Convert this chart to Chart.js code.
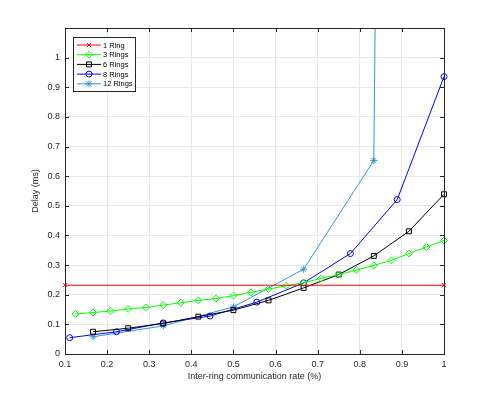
<!DOCTYPE html>
<html lang="en">
<head>
    <meta charset="UTF-8">
    <title>Delay vs inter-ring communication rate</title>
    <script src="https://cdn.jsdelivr.net/npm/chart.js"></script>
    <style>
        body { margin: 0; background: #fff; }
    </style>
</head>
<body>
    <canvas id="chart" width="498" height="399"></canvas>

    <script>
        // values
        const labels = ["1 Ring", "3 Rings", "6 Rings", "8 Rings", "12 Rings"];
        const xTicks = [0.1, 0.2, 0.3, 0.4, 0.5, 0.6, 0.7, 0.8, 0.9, 1];

        const ring1X = [0.1, 1];
        const ring1Y = [0.232, 0.232];

        const ring3X = [3/24, 4/24, 5/24, 6/24, 7/24, 8/24, 9/24, 10/24, 11/24, 12/24, 13/24,
                        14/24, 15/24, 16/24, 17/24, 18/24, 19/24, 20/24, 21/24, 22/24, 23/24, 1];
        const ring3Y = [0.135, 0.140, 0.145, 0.152, 0.157, 0.165, 0.173, 0.181, 0.187, 0.197, 0.208,
                        0.219, 0.230, 0.241, 0.255, 0.268, 0.283, 0.299, 0.316, 0.339, 0.361, 0.383];

        const ring6X = [2/12, 3/12, 4/12, 5/12, 6/12, 7/12, 8/12, 9/12, 10/12, 11/12, 1];
        const ring6Y = [0.075, 0.087, 0.103, 0.126, 0.148, 0.181, 0.223, 0.268, 0.331, 0.414, 0.539];

        const ring8X = [1/9, 2/9, 3/9, 4/9, 5/9, 6/9, 7/9, 8/9, 1];
        const ring8Y = [0.055, 0.075, 0.105, 0.128, 0.175, 0.240, 0.339, 0.521, 0.936];

        // last point is far above the axis, the line leaves the plot almost vertically
        const ring12X = [1/6, 2/6, 3/6, 4/6, 5/6, 1];
        const ring12Y = [0.058, 0.095, 0.159, 0.286, 0.653, 25];

        const textColor = "#262626";
        const fontFamily = "'Liberation Sans', Arial, Helvetica, sans-serif";

        function pts(xs, ys) {
            return xs.map((x, i) => ({ x: x, y: ys[i] }));
        }

        function series(label, xs, ys, color, style, radius, clip) {
            return {
                label: label,
                data: pts(xs, ys),
                showLine: true,
                borderColor: color,
                borderWidth: 1,
                pointStyle: style,
                pointRadius: radius,
                pointBorderColor: color,
                pointBackgroundColor: "rgba(0,0,0,0)",
                pointBorderWidth: 1,
                clip: clip
            };
        }

        const datasets = [
            series(labels[0], ring1X, ring1Y, "#ff0000", "crossRot", 3, 6),
            series(labels[1], ring3X, ring3Y, "#00ff00", "rectRot", 3.5, 6),
            series(labels[2], ring6X, ring6Y, "#000000", "rect", 3.5, 6),
            series(labels[3], ring8X, ring8Y, "#0000ff", "circle", 3, 6),
            series(labels[4], ring12X, ring12Y, "#3097d8", "star", 3.5, { left: 6, right: 6, bottom: 6, top: 0 })
        ];

        // box round the axes, inner tick marks and the legend in the upper left corner
        const framePlugin = {
            id: "frame",
            afterDraw(chart) {
                const ctx = chart.ctx;
                const a = chart.chartArea;
                const xs = chart.scales.x, ys = chart.scales.y;
                ctx.save();
                ctx.strokeStyle = textColor;
                ctx.lineWidth = 1;
                ctx.beginPath();
                xs.ticks.forEach(t => {
                    const px = Math.round(xs.getPixelForValue(t.value)) + 0.5;
                    ctx.moveTo(px, a.bottom); ctx.lineTo(px, a.bottom - 4);
                    ctx.moveTo(px, a.top); ctx.lineTo(px, a.top + 4);
                });
                ys.ticks.forEach(t => {
                    const py = Math.round(ys.getPixelForValue(t.value)) + 0.5;
                    ctx.moveTo(a.left, py); ctx.lineTo(a.left + 4, py);
                    ctx.moveTo(a.right, py); ctx.lineTo(a.right - 4, py);
                });
                ctx.stroke();
                ctx.strokeRect(Math.round(a.left) + 0.5, Math.round(a.top) + 0.5,
                               Math.round(a.width), Math.round(a.height));

                // legend
                const bx = 73, by = 37, bw = 62, bh = 54;
                ctx.fillStyle = "#fff";
                ctx.fillRect(bx, by, bw, bh);
                ctx.strokeRect(bx + 0.5, by + 0.5, bw, bh);
                ctx.font = "7.5px " + fontFamily;
                ctx.textBaseline = "middle";
                chart.data.datasets.forEach((ds, i) => {
                    const ly = by + 8 + i * 9.7;
                    ctx.strokeStyle = ds.borderColor;
                    ctx.beginPath();
                    ctx.moveTo(77, ly); ctx.lineTo(101, ly);
                    ctx.stroke();
                    if (Chart.helpers && Chart.helpers.drawPoint) {
                        ctx.fillStyle = "rgba(0,0,0,0)";
                        Chart.helpers.drawPoint(ctx, { pointStyle: ds.pointStyle, radius: ds.pointRadius, borderWidth: 1, rotation: 0 }, 89, ly);
                    }
                    ctx.fillStyle = "#000";
                    ctx.fillText(ds.label, 103, ly + 0.5);
                });
                ctx.restore();
            }
        };

        new Chart(document.getElementById("chart"), {
            type: "scatter",
            data: { datasets: datasets },
            options: {
                responsive: false,
                animation: false,
                devicePixelRatio: 1,
                layout: { padding: { top: 28, right: 54, left: 0, bottom: 0 } },
                plugins: {
                    legend: { display: false },
                    tooltip: { enabled: false }
                },
                scales: {
                    x: {
                        type: "linear",
                        min: 0.1,
                        max: 1,
                        afterBuildTicks: s => { s.ticks = xTicks.map(v => ({ value: v })); },
                        afterFit: s => { s.height = 45; },
                        ticks: {
                            color: textColor,
                            padding: 5,
                            font: { family: fontFamily, size: 9 },
                            maxRotation: 0,
                            callback: v => String(+v.toFixed(1))
                        },
                        grid: { color: "#e8e8e8", drawTicks: false },
                        border: { color: textColor },
                        title: {
                            display: true,
                            text: "Inter-ring communication rate (%)",
                            color: textColor,
                            font: { family: fontFamily, size: 9 },
                            padding: { top: 0, bottom: 17 }
                        }
                    },
                    y: {
                        type: "linear",
                        min: 0,
                        max: 1.1,
                        afterBuildTicks: s => { s.ticks = s.ticks.filter(t => t.value <= 1.0001); },
                        afterFit: s => { s.width = 65; },
                        ticks: {
                            stepSize: 0.1,
                            color: textColor,
                            padding: 5,
                            font: { family: fontFamily, size: 9 },
                            callback: v => String(+v.toFixed(1))
                        },
                        grid: { color: "#e8e8e8", drawTicks: false },
                        border: { color: textColor },
                        title: {
                            display: true,
                            text: "Delay (ms)",
                            color: textColor,
                            font: { family: fontFamily, size: 9 },
                            padding: { top: 30, bottom: 0 }
                        }
                    }
                }
            },
            plugins: [framePlugin]
        });
    </script>
</body>
</html>
